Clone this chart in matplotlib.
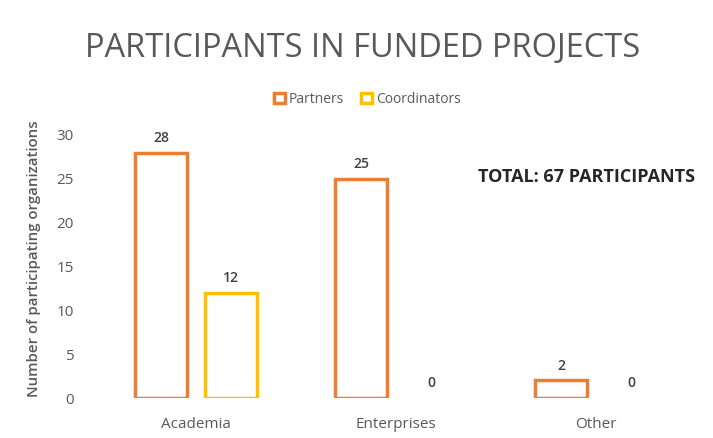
import matplotlib.pyplot as plt
import numpy as np

categories = ["Academia", "Enterprises", "Other"]
partners = [28, 25, 2]
coordinators = [12, 0, 0]
yticks = [0, 5, 10, 15, 20, 25, 30]

plt.rcParams['font.family'] = ['Open Sans', 'DejaVu Sans']

orange = "#ED7D31"
gold = "#FFC000"
gray = "#595959"

fig = plt.figure(figsize=(7.13, 4.38), dpi=100)
ax = fig.add_axes([0.1346, 0.0913, 0.8415, 0.6005])

x = np.arange(len(categories))
w = 0.26
off = 0.175
b1 = ax.bar(x - off, partners, w, facecolor="white", edgecolor=orange, linewidth=2.5, label="Partners")
b2 = ax.bar(x + off, coordinators, w, facecolor="white", edgecolor=gold, linewidth=2.5, label="Coordinators")
for bars in (b1, b2):
    for r in bars:
        if r.get_height() == 0:
            r.set_visible(False)

for xi, v in zip(x - off, partners):
    ax.text(xi, v + 0.9, str(v), ha="center", va="bottom", fontsize=10, fontweight="semibold",
            color="#404040", clip_on=False)
for xi, v in zip(x + off, coordinators):
    ax.text(xi, v + 0.9, str(v), ha="center", va="bottom", fontsize=10, fontweight="semibold",
            color="#404040", clip_on=False)

ax.set_xlim(-0.5, 2.5)
ax.set_ylim(0, 30)
ax.set_yticks(yticks)
ax.set_xticks(x)
ax.set_xticklabels(categories)
ax.tick_params(axis="both", length=0, labelsize=11, colors=gray)
ax.tick_params(axis="x", pad=14)
ax.tick_params(axis="y", pad=16)
for s in ax.spines.values():
    s.set_visible(False)
ax.set_ylabel("Number of participating organizations", fontsize=10.8, fontweight="semibold",
              color=gray, labelpad=10)
ax.yaxis.set_label_coords(-0.092, 0.53)

fig.text(0.508, 0.89, "PARTICIPANTS IN FUNDED PROJECTS", ha="center", va="center", fontsize=23.5, color=gray)
fig.legend(handles=[b1, b2], loc="center", bbox_to_anchor=(0.515, 0.773), ncol=2, frameon=False,
           fontsize=10, labelcolor=gray, handlelength=0.8, handleheight=0.8, handletextpad=0.3, columnspacing=1.2)
fig.text(0.822, 0.595, "TOTAL: 67 PARTICIPANTS", ha="center", va="center", fontsize=13, fontweight="bold", color="#262626")

fig.savefig("out.png", dpi=100)
